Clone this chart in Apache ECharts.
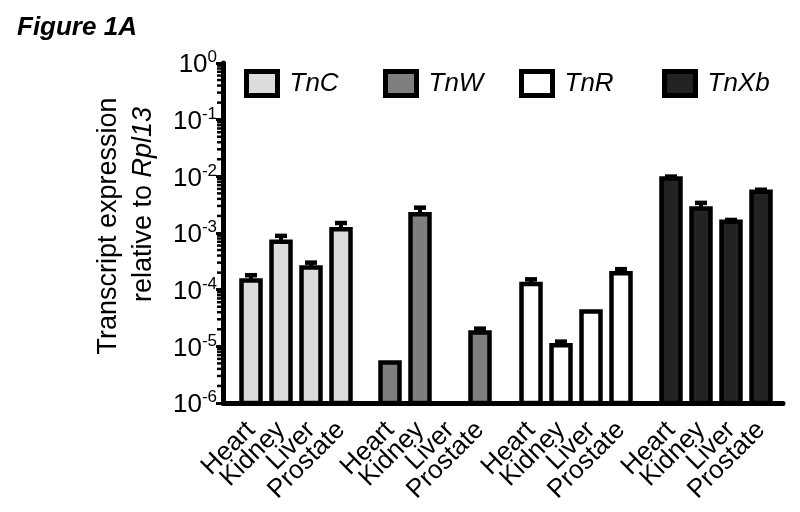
<!DOCTYPE html>
<html><head><meta charset="utf-8">
<script src="https://cdn.jsdelivr.net/npm/echarts@6/dist/echarts.min.js"></script>
<style>html,body{margin:0;padding:0;background:#fff}#c{width:800px;height:512px}</style>
</head><body><div id="c"></div>
<script>
// ---- data ----
const tissues = ['Heart', 'Kidney', 'Liver', 'Prostate'];
const genes = ['TnC', 'TnW', 'TnR', 'TnXb'];
const tnC = [1.45e-4, 7.0e-4, 2.45e-4, 1.17e-3];
const tnCUpper = [1.8e-4, 8.9e-4, 3.0e-4, 1.5e-3];
const tnW = [5.2e-6, 2.15e-3, null, 1.75e-5];
const tnWUpper = [null, 2.8e-3, null, 2.05e-5];
const tnR = [1.26e-4, 1.05e-5, 4.1e-5, 1.95e-4];
const tnRUpper = [1.52e-4, 1.21e-5, null, 2.3e-4];
const tnXb = [9.2e-3, 2.7e-3, 1.58e-3, 5.35e-3];
const tnXbUpper = [9.9e-3, 3.4e-3, 1.7e-3, 5.8e-3];
const yTickExponents = [0, -1, -2, -3, -4, -5, -6];
const yMin = 1e-6, yMax = 1;

const values = [tnC, tnW, tnR, tnXb];
const uppers = [tnCUpper, tnWUpper, tnRUpper, tnXbUpper];
const colors = ['#dcdcdc', '#7f7f7f', '#ffffff', '#232323'];

// minor log ticks (2..9 x 10^k) for the axis decoration
const minorTickValues = [];
for (let e = -6; e < 0; e++) for (let m = 2; m <= 9; m++) minorTickValues.push([0, m * Math.pow(10, e)]);

const FONT = 'Liberation Sans, Arial, sans-serif';
const chart = echarts.init(document.getElementById('c'));

const groupLefts = [236, 375, 516, 656];
const gridTop = 63, gridBottom = 109;

const grids = [{ left: 223, right: 17, top: gridTop, bottom: gridBottom }];
const xAxes = [{
  gridIndex: 0, type: 'value', min: 0, max: 1,
  axisLine: { show: true, lineStyle: { color: '#000', width: 5 } },
  axisTick: { show: false }, axisLabel: { show: false }, splitLine: { show: false }, z: 5
}];
const yAxes = [{
  gridIndex: 0, type: 'log', min: yMin, max: yMax, logBase: 10,
  axisLine: { show: true, lineStyle: { color: '#000', width: 5 } },
  axisTick: { show: true, length: 7, lineStyle: { color: '#000', width: 3 } },
  splitLine: { show: false },
  axisLabel: {
    margin: 6, fontFamily: FONT, color: '#000',
    formatter: function (v) {
      const e = Math.round(Math.log10(v));
      return yTickExponents.indexOf(e) >= 0 ? '{b|10}{s|' + e + '}' : '';
    },
    rich: {
      b: { fontSize: 26, fontFamily: FONT, color: '#000', verticalAlign: 'bottom', lineHeight: 30 },
      s: { fontSize: 17, fontFamily: FONT, color: '#000', verticalAlign: 'bottom', lineHeight: 30, padding: [0, 0, 12, 0] }
    }
  },
  name: '{p|}{a|Transcript expression}\n{q|}{a|relative to }{i|Rpl13}',
  nameLocation: 'middle', nameGap: 62,
  nameTextStyle: {
    lineHeight: 35,
    rich: {
      a: { fontSize: 27, fontFamily: FONT, color: '#000', lineHeight: 35 },
      i: { fontSize: 27, fontFamily: FONT, color: '#000', fontStyle: 'italic', lineHeight: 35 },
      p: { width: 14, lineHeight: 35 },
      q: { width: 57, lineHeight: 35 }
    }
  }
}];

const series = [{
  type: 'custom', xAxisIndex: 0, yAxisIndex: 0, silent: true, z: 6,
  data: minorTickValues,
  renderItem: function (params, api) {
    const p = api.coord([api.value(0), api.value(1)]);
    return { type: 'line', shape: { x1: p[0] - 6, y1: p[1], x2: p[0], y2: p[1] }, style: { stroke: '#000', lineWidth: 2.5 } };
  }
}];
genes.forEach((g, k) => {
  const gi = k + 1;
  grids.push({ left: groupLefts[k], width: 120, top: gridTop, bottom: gridBottom });
  xAxes.push({
    gridIndex: gi, type: 'category', data: tissues,
    axisLine: { show: false }, axisTick: { show: false },
    axisLabel: { rotate: 45, margin: 23, fontSize: 26, fontFamily: FONT, color: '#000', interval: 0 }
  });
  yAxes.push({ gridIndex: gi, type: 'log', min: yMin, max: yMax, show: false });
  const barData = [];
  const errData = [];
  tissues.forEach((t, j) => {
    if (values[k][j] != null) barData.push([j, values[k][j]]);
    if (values[k][j] != null && uppers[k][j] != null) errData.push([j, values[k][j], uppers[k][j]]);
  });
  const fill = colors[k];
  series.push({
    name: g, type: 'custom', xAxisIndex: gi, yAxisIndex: gi, z: 3,
    itemStyle: { color: fill, borderColor: '#000', borderWidth: 4.5 },
    data: barData,
    renderItem: function (params, api) {
      const top = api.coord([api.value(0), api.value(1)]);
      const base = api.coord([api.value(0), yMin]);
      const w = 19;
      return {
        type: 'rect',
        shape: { x: top[0] - w / 2, y: top[1], width: w, height: base[1] - top[1] },
        style: { fill: fill, stroke: '#000', lineWidth: 4.5 }
      };
    }
  });
  series.push({
    type: 'custom', xAxisIndex: gi, yAxisIndex: gi, z: 2, silent: true,
    data: errData,
    renderItem: function (params, api) {
      const lo = api.coord([api.value(0), api.value(1)]);
      const hi = api.coord([api.value(0), api.value(2)]);
      const hw = 6;
      return {
        type: 'group', children: [
          { type: 'line', shape: { x1: lo[0], y1: lo[1], x2: hi[0], y2: hi[1] }, style: { stroke: '#000', lineWidth: 4 } },
          { type: 'line', shape: { x1: hi[0] - hw, y1: hi[1], x2: hi[0] + hw, y2: hi[1] }, style: { stroke: '#000', lineWidth: 4.5 } }
        ]
      };
    }
  });
});

const legendLefts = [239, 378, 514, 657];
const legends = genes.map((g, k) => ({
  data: [{ name: g, icon: 'rect', itemStyle: { color: colors[k], borderColor: '#000', borderWidth: 5 } }],
  left: legendLefts[k], top: 64,
  itemWidth: 31, itemHeight: 24,
  textStyle: { fontSize: 26, fontStyle: 'italic', fontFamily: FONT, color: '#000', padding: [0, 0, 0, 7] },
  selectedMode: false
}));

chart.setOption({
  animation: false,
  backgroundColor: '#fff',
  title: { text: 'Figure 1A', left: 12, top: 10, textStyle: { fontSize: 26, fontWeight: 'bold', fontStyle: 'italic', fontFamily: FONT, color: '#000' } },
  legend: legends,
  grid: grids, xAxis: xAxes, yAxis: yAxes, series: series
});
</script></body></html>
